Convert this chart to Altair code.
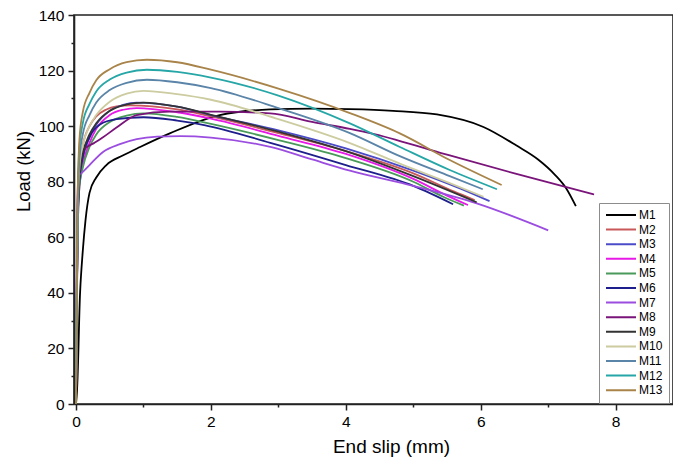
import altair as alt
import pandas as pd

series_names = ["M1", "M2", "M3", "M4", "M5", "M6", "M7", "M8", "M9", "M10", "M11", "M12", "M13"]
series_colors = ["#000000", "#c8585a", "#4b4bc8", "#e619e6", "#4a9a5a", "#1e1e8c", "#9b4de0",
                 "#7a147a", "#333333", "#cccca0", "#5a84a8", "#26a6a6", "#a8844a"]

M1_x = [0, 0.005, 0.06, 0.1, 0.14, 0.2, 0.3, 0.45, 0.7, 0.95, 1.39, 2.13, 2.88, 3.5, 4.06, 4.7, 5.35, 6.04, 6.53, 6.85, 7.1, 7.27, 7.41]
M1_y = [0, 0, 40, 55, 66, 76, 81.5, 86, 89.5, 92.5, 97.4, 104, 106, 106.3, 106.1, 105.5, 104.2, 99.7, 93, 88, 82.5, 77.5, 71.2]
M2_x = [0, 0.01, 0.025, 0.05, 0.1, 0.2, 0.3, 0.45, 0.6, 0.8, 1.5, 2.0, 3.0, 4.0, 5.0, 5.6, 5.91]
M2_y = [0, 35, 68, 84, 93, 100, 103.5, 106, 107.1, 107.5, 106, 103.5, 97.5, 91, 83, 76.5, 73.4]
M3_x = [0, 0.01, 0.025, 0.05, 0.1, 0.2, 0.3, 0.5, 0.7, 0.9, 1.5, 2.0, 3.0, 4.0, 5.0, 5.7, 6.13]
M3_y = [0, 33, 65, 80, 88, 96, 100.5, 105.5, 107.7, 108.5, 107, 104, 98.5, 92, 84, 77.5, 73]
M4_x = [0, 0.01, 0.025, 0.05, 0.1, 0.2, 0.3, 0.5, 0.7, 0.9, 1.5, 2.0, 3.0, 4.0, 5.0, 5.5, 5.81]
M4_y = [0, 32, 62, 78, 86, 94, 99, 104, 105.9, 106.5, 105, 102.7, 96.5, 90, 81, 75, 71.6]
M5_x = [0, 0.01, 0.025, 0.05, 0.1, 0.2, 0.3, 0.5, 0.75, 1.0, 1.5, 2.0, 3.0, 4.0, 5.0, 5.45, 5.75]
M5_y = [0, 32, 62, 78, 85, 92.5, 97, 101.5, 103.8, 104.6, 103.3, 100.8, 95, 88.5, 80, 74.5, 71.4]
M6_x = [0, 0.01, 0.025, 0.05, 0.1, 0.2, 0.35, 0.6, 1.0, 1.5, 1.9, 2.88, 4.0, 5.0, 5.59]
M6_y = [0, 34, 66, 80, 89, 96, 100.5, 102.5, 103.2, 102, 100.4, 94, 86, 78.5, 71.9]
M7_x = [0, 0.005, 0.015, 0.035, 0.1, 0.2, 0.4, 0.65, 0.9, 1.2, 1.54, 2.0, 2.88, 3.5, 4.06, 5.0, 5.94, 7.0]
M7_y = [0, 30, 65, 81.7, 83.5, 86, 90.7, 93.5, 95.3, 96.2, 96.4, 95.9, 92.5, 88, 84, 78.5, 72.2, 62.5]
M8_x = [0, 0.01, 0.03, 0.06, 0.1, 0.16, 0.26, 0.4, 0.6, 0.9, 1.39, 2.13, 2.88, 3.5, 4.06, 4.36, 5.4, 6.5, 7.68]
M8_y = [0, 40, 80, 89, 91, 92.5, 93.8, 96, 99.5, 104, 105.2, 105.2, 104.6, 101.5, 99, 97.5, 90.4, 83, 75.4]
M9_x = [0, 0.01, 0.025, 0.05, 0.1, 0.2, 0.3, 0.5, 0.75, 1.0, 1.5, 2.0, 3.0, 4.0, 5.0, 5.94]
M9_y = [0, 34, 66, 82, 90, 97, 101, 105.5, 107.8, 108.5, 107, 104.1, 98, 91, 82, 72.6]
M10_x = [0, 0.01, 0.025, 0.05, 0.1, 0.2, 0.3, 0.5, 0.75, 1.0, 1.5, 2.0, 3.0, 4.06, 4.8, 5.54, 6.04]
M10_y = [0, 35, 68, 85, 93, 100, 104, 108.8, 111.7, 112.7, 111.5, 109.5, 102.5, 93.9, 86.5, 79.5, 74.6]
M11_x = [0, 0.01, 0.025, 0.05, 0.1, 0.2, 0.3, 0.5, 0.75, 1.05, 1.5, 2.0, 3.0, 4.06, 4.8, 5.54, 6.03]
M11_y = [0, 36, 70, 88, 97, 104, 108.5, 113, 115.6, 116.7, 115.8, 113.7, 106.5, 97.5, 89.2, 82, 77.3]
M12_x = [0, 0.01, 0.025, 0.05, 0.1, 0.2, 0.3, 0.5, 0.75, 1.05, 1.5, 2.0, 3.0, 4.06, 4.8, 5.54, 6.24]
M12_y = [0, 38, 72, 92, 101, 108, 112.5, 116.8, 119.3, 120.3, 119.5, 117.5, 111, 101, 92.5, 84.2, 77.3]
M13_x = [0, 0.01, 0.025, 0.05, 0.1, 0.2, 0.3, 0.5, 0.75, 1.05, 1.5, 2.0, 3.0, 4.06, 4.8, 5.54, 6.31]
M13_y = [0, 40, 75, 95, 105, 112, 116.5, 120.5, 123, 123.9, 123, 120.3, 113.5, 104.7, 97.4, 87.8, 78.8]

x_major_ticks = [0, 2, 4, 6, 8]
x_minor_ticks = [1, 3, 5, 7]
y_major_ticks = [0, 20, 40, 60, 80, 100, 120, 140]
y_minor_ticks = [10, 30, 50, 70, 90, 110, 130]

xs_all = [M1_x, M2_x, M3_x, M4_x, M5_x, M6_x, M7_x, M8_x, M9_x, M10_x, M11_x, M12_x, M13_x]
ys_all = [M1_y, M2_y, M3_y, M4_y, M5_y, M6_y, M7_y, M8_y, M9_y, M10_y, M11_y, M12_y, M13_y]

frames = []
for name, xs, ys in zip(series_names, xs_all, ys_all):
    frames.append(pd.DataFrame({"slip": xs, "load": ys, "series": name, "idx": list(range(len(xs)))}))
df = pd.concat(frames, ignore_index=True)

FONT = "Liberation Sans"
x_scale = alt.Scale(domain=[-0.03, 8.85], nice=False, zero=False)
y_scale = alt.Scale(domain=[0, 140], nice=False, zero=False)

lines = alt.Chart(df).mark_line(strokeWidth=1.8, interpolate="monotone", clip=True).encode(
    x=alt.X("slip:Q", scale=x_scale, axis=alt.Axis(
        values=x_major_ticks, orient="bottom", grid=False, title="End slip (mm)",
        tickSize=6, tickWidth=1.5, tickColor="#222222", domainColor="#222222", domainWidth=1.6,
        labelFont=FONT, labelFontSize=15.5, labelColor="#000000", labelPadding=4,
        titleFont=FONT, titleFontSize=19, titleFontWeight="normal", titleColor="#000000",
        titleX=317, titleY=33)),
    y=alt.Y("load:Q", scale=y_scale, axis=alt.Axis(
        values=y_major_ticks, orient="left", grid=False, title="Load (kN)",
        tickSize=6, tickWidth=1.5, tickColor="#222222", domainColor="#222222", domainWidth=1.6,
        labelFont=FONT, labelFontSize=15.5, labelColor="#000000", labelPadding=4,
        titleFont=FONT, titleFontSize=18.5, titleFontWeight="normal", titleColor="#000000",
        titleX=-41, titleY=156)),
    color=alt.Color("series:N", scale=alt.Scale(domain=series_names, range=series_colors),
                    legend=alt.Legend(title=None, orient="none", legendX=525, legendY=188,
                                      symbolType="stroke", symbolSize=900, symbolStrokeWidth=2,
                                      labelFont=FONT, labelFontSize=12, labelColor="#000000",
                                      labelOffset=2, rowPadding=2.6, clipHeight=12, padding=6,
                                      strokeColor="#8c8c8c", fillColor="#ffffff")),
    order="idx:Q",
)

minor = alt.Chart(df).mark_line(opacity=0).encode(
    x=alt.X("slip:Q", scale=x_scale, axis=alt.Axis(
        values=x_minor_ticks, orient="bottom", grid=False, title=None, labels=False, domain=False,
        tickSize=3, tickWidth=1.5, tickColor="#222222")),
    y=alt.Y("load:Q", scale=y_scale, axis=alt.Axis(
        values=y_minor_ticks, orient="left", grid=False, title=None, labels=False, domain=False,
        tickSize=3, tickWidth=1.5, tickColor="#222222")),
    detail="series:N",
)

chart = alt.layer(lines, minor).resolve_axis(x="independent", y="independent").properties(
    width=599, height=389, autosize="none",
    padding={"left": 74, "top": 15, "right": 0, "bottom": 57},
).configure_view(stroke="#222222", strokeWidth=1.6)

chart.save("out.html", embed_options={"renderer": "svg", "actions": False})
